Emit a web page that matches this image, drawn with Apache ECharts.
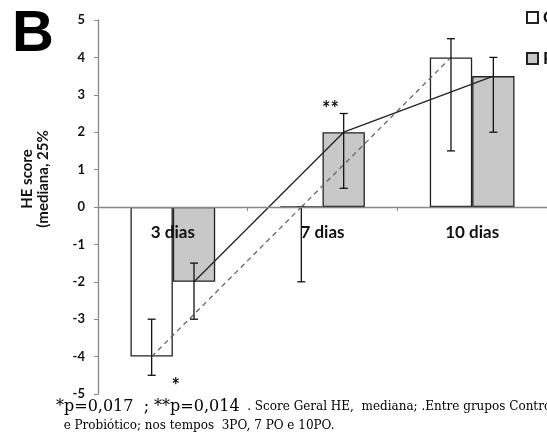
<!DOCTYPE html>
<html><head><meta charset="utf-8">
<script src="https://cdn.jsdelivr.net/npm/echarts@6/dist/echarts.min.js"></script>
<style>html,body{margin:0;padding:0;background:#fff}#c{width:547px;height:439px}</style>
</head><body><div id="c"></div>
<script>
// ---- data ----
const categories = ['3 dias', '7 dias', '10 dias'];
const seriesNames = ['Controle', 'Probiótico'];
const controleMedian = [-4, 0, 4];
const controleLow = [-4.5, -2, 1.5];
const controleHigh = [-3, 0, 4.5];
const probioticoMedian = [-2, 2, 3.5];
const probioticoLow = [-3, 0.5, 2];
const probioticoHigh = [-1.5, 2.5, 4];
const yMin = -5, yMax = 5, yStep = 1;
const annotationCats = [0, 1];
const annotationValues = [-4.8, 2.6];
const annotationTexts = ['*', '**'];
const yTitle = 'HE score\n(mediana, 25%';
const panelLetter = 'B';
const note1a = '*p=0,017  ; **p=0,014';
const note1b = '  . Score Geral HE,  mediana; .Entre grupos Controle';
const note2 = '  e Probiótico; nos tempos  3PO, 7 PO e 10PO.';

// ---- style ----
const BAR_FRAC = 0.283;
const annotationDx = [3, 8];
const fontSans = 'Lato, "Open Sans", sans-serif';

const chart = echarts.init(document.getElementById('c'));

function errorRender(lows, highs, sign) {
  return function (params, api) {
    const i = api.value(0);
    const band = api.size([1, 0])[0];
    const dx = sign * band * BAR_FRAC / 2;
    const t = api.coord([i, highs[i]]);
    const b = api.coord([i, lows[i]]);
    const x = t[0] + dx, cap = 4;
    const st = { stroke: '#111', lineWidth: 1.3 };
    return { type: 'group', children: [
      { type: 'line', shape: { x1: x, y1: t[1], x2: x, y2: b[1] }, style: st },
      { type: 'line', shape: { x1: x - cap, y1: t[1], x2: x + cap, y2: t[1] }, style: st },
      { type: 'line', shape: { x1: x - cap, y1: b[1], x2: x + cap, y2: b[1] }, style: st }
    ]};
  };
}
function lineRender(values, sign, dash, color) {
  return function (params, api) {
    const i = api.value(0);
    if (i >= values.length - 1) return null;
    const band = api.size([1, 0])[0];
    const dx = sign * band * BAR_FRAC / 2;
    const p1 = api.coord([i, values[i]]);
    const p2 = api.coord([i + 1, values[i + 1]]);
    return { type: 'line', shape: { x1: p1[0] + dx, y1: p1[1], x2: p2[0] + dx, y2: p2[1] },
      style: { stroke: color, lineWidth: 1.3, lineDash: dash } };
  };
}
function annotRender(params, api) {
  const k = params.dataIndex;
  const p = api.coord([api.value(0), api.value(1)]);
  return { type: 'text', x: p[0] + annotationDx[k], y: p[1],
    style: { text: annotationTexts[k], font: 'bold 20px ' + fontSans, fill: '#111', align: 'center', verticalAlign: 'middle' } };
}

chart.setOption({
  animation: false,
  backgroundColor: '#fff',
  grid: { left: 98, top: 20, width: 456, height: 374, containLabel: false },
  legend: {
    left: 526, top: 9, orient: 'vertical', itemGap: 24, padding: 0,
    icon: 'rect', itemWidth: 11, itemHeight: 11,
    textStyle: { fontFamily: fontSans, fontWeight: 'bold', fontSize: 17, color: '#111' },
    data: seriesNames
  },
  xAxis: {
    type: 'category', data: categories, z: 6,
    axisLine: { onZero: true, lineStyle: { color: '#888', width: 1.3 } },
    axisTick: { show: true, length: 4, lineStyle: { color: '#888' } },
    axisLabel: { margin: -170, verticalAlign: 'top', fontFamily: fontSans, fontWeight: 'bold', fontSize: 17, color: '#111' },
    splitLine: { show: false }
  },
  yAxis: {
    type: 'value', min: yMin, max: yMax, interval: yStep,
    axisLine: { show: true, onZero: false, lineStyle: { color: '#888', width: 1.3 } },
    axisTick: { show: true, length: 4, lineStyle: { color: '#888' } },
    axisLabel: { margin: 13, fontFamily: fontSans, fontWeight: 'bold', fontSize: 13, color: '#111' },
    splitLine: { show: false }
  },
  graphic: [
    { type: 'text', left: 12, top: 6, style: { text: panelLetter, font: 'bold 58px "Liberation Sans", Arial, sans-serif', fill: '#000' } },
    { type: 'text', x: 35, y: 179, rotation: Math.PI / 2,
      style: { text: yTitle, font: 'bold 15px ' + fontSans, fill: '#111', align: 'center', verticalAlign: 'middle', lineHeight: 16 } },
    { type: 'text', left: 56, top: 399,
      style: { text: '{a|' + note1a + '}{b|' + note1b + '}\n{b|' + note2 + '}',
        rich: {
          a: { font: '16px "DejaVu Serif", serif', fill: '#000', lineHeight: 19 },
          b: { font: '12px "DejaVu Serif", serif', fill: '#000', lineHeight: 19 }
        } } }
  ],
  series: [
    { name: seriesNames[0], type: 'bar', data: controleMedian, barWidth: (BAR_FRAC * 100) + '%', barGap: '0%',
      itemStyle: { color: '#fff', borderColor: '#222', borderWidth: 1.3 }, z: 2 },
    { name: seriesNames[1], type: 'bar', data: probioticoMedian, barWidth: (BAR_FRAC * 100) + '%', barGap: '0%',
      itemStyle: { color: '#c8c8c8', borderColor: '#222', borderWidth: 1.3 }, z: 2 },
    { type: 'custom', renderItem: lineRender(controleMedian, -1, [5, 4], '#666'), z: 3,
      data: controleMedian.map((v, i) => [i, v]), encode: { x: 0, y: 1 } },
    { type: 'custom', renderItem: lineRender(probioticoMedian, 1, null, '#222'), z: 3,
      data: probioticoMedian.map((v, i) => [i, v]), encode: { x: 0, y: 1 } },
    { type: 'custom', renderItem: errorRender(controleLow, controleHigh, -1), z: 4,
      data: controleLow.map((v, i) => [i, v, controleHigh[i]]), encode: { x: 0, y: [1, 2] } },
    { type: 'custom', renderItem: errorRender(probioticoLow, probioticoHigh, 1), z: 4,
      data: probioticoLow.map((v, i) => [i, v, probioticoHigh[i]]), encode: { x: 0, y: [1, 2] } },
    { type: 'custom', renderItem: annotRender, z: 5,
      data: annotationCats.map((c, i) => [c, annotationValues[i]]), encode: { x: 0, y: 1 } }
  ]
});
</script></body></html>
